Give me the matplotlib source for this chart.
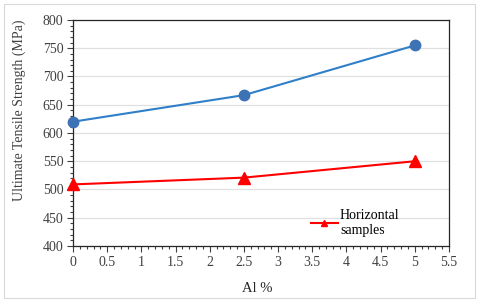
import matplotlib.pyplot as plt
from matplotlib.patches import Rectangle
from matplotlib.ticker import MultipleLocator

# --- Data
al_pct = [0, 2.5, 5]
uts_vertical = [620, 667, 755]
uts_horizontal = [509, 521, 550]

plt.rcParams['font.family'] = ['Liberation Serif', 'DejaVu Serif']

fig = plt.figure(figsize=(4.8, 3.04), dpi=100)
ax = fig.add_axes([73 / 480, 1 - 246 / 304, (449 - 73) / 480, (246 - 20) / 304])

# light border around the whole chart area
fig.patches.append(Rectangle((4 / 480, 6 / 304), 471 / 480, 294 / 304,
                             transform=fig.transFigure, fill=False,
                             edgecolor='#d9d9d9', linewidth=0.8))

ax.plot(al_pct, uts_vertical, color='#2f7fc9', linewidth=1.5,
        marker='o', markersize=7.5, markerfacecolor='#3d72b4',
        markeredgecolor='#3d72b4', clip_on=False, zorder=3)
ax.plot(al_pct, uts_horizontal, color='#ff0000', linewidth=1.5,
        marker='^', markersize=8, clip_on=False, zorder=3,
        label='Horizontal\nsamples')

ax.set_xlim(0, 5.5)
ax.set_ylim(400, 800)
ax.xaxis.set_major_locator(MultipleLocator(0.5))
ax.xaxis.set_minor_locator(MultipleLocator(0.1))
ax.yaxis.set_major_locator(MultipleLocator(50))
ax.yaxis.set_minor_locator(MultipleLocator(10))
ax.xaxis.set_major_formatter(plt.FuncFormatter(lambda v, p: f'{v:g}'))

ax.tick_params(axis='both', which='major', direction='out', length=4,
               width=0.8, labelsize=10, colors='#404040', pad=3)
ax.tick_params(axis='both', which='minor', direction='out', length=2.5,
               width=0.8, colors='#404040')

ax.grid(axis='y', which='major', color='#e0e0e0', linewidth=0.9)
ax.set_axisbelow(True)
for s in ax.spines.values():
    s.set_color('#262626')
    s.set_linewidth(0.9)

ax.set_xlabel('Al %', fontsize=10.5, color='#262626')
ax.xaxis.set_label_coords(0.49, -0.158)
ax.set_ylabel('Ultimate Tensile Strength (MPa)', fontsize=10,
              color='#404040')
ax.yaxis.set_label_coords(-0.125, 0.60)

ax.legend(loc='upper left', bbox_to_anchor=(0.614, 0.195), frameon=False,
          fontsize=10, handlelength=1.95, handletextpad=0.15,
          borderpad=0, labelspacing=0, markerscale=0.6)

fig.savefig('out.png', dpi=100)
